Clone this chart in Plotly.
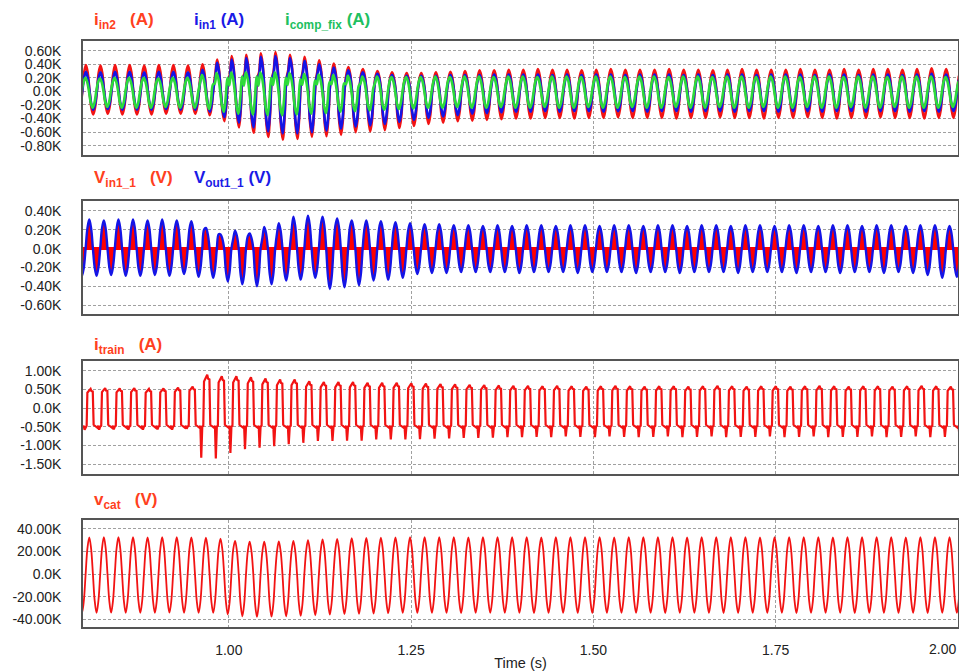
import plotly.graph_objects as go

PERIOD = 0.02  # 50 Hz cycles

# ---------------- panel 1 : input currents (kA), one value per cycle ----------------
i_in2_t0 = 0.7840
i_in2_peak = [0.39, 0.39, 0.38, 0.39, 0.39, 0.38, 0.39, 0.39,
              0.38, 0.40, 0.47, 0.52, 0.54, 0.56, 0.58, 0.54,
              0.51, 0.46, 0.41, 0.36, 0.33, 0.30, 0.28, 0.27,
              0.27, 0.28, 0.29, 0.30, 0.31, 0.31, 0.32, 0.32,
              0.33, 0.32, 0.32, 0.31, 0.32, 0.33, 0.32, 0.32,
              0.32, 0.33, 0.32, 0.32, 0.31, 0.32, 0.33, 0.32,
              0.32, 0.32, 0.33, 0.32, 0.32, 0.33, 0.32, 0.33,
              0.33, 0.32, 0.33, 0.34, 0.33]
i_in2_trough = [-0.34, -0.34, -0.33, -0.34, -0.34, -0.34, -0.33, -0.33,
                -0.33, -0.35, -0.44, -0.53, -0.61, -0.67, -0.71, -0.70,
                -0.67, -0.66, -0.64, -0.60, -0.59, -0.57, -0.54, -0.51,
                -0.48, -0.46, -0.44, -0.43, -0.42, -0.41, -0.40, -0.40,
                -0.39, -0.39, -0.40, -0.39, -0.39, -0.38, -0.39, -0.39,
                -0.39, -0.40, -0.39, -0.39, -0.38, -0.39, -0.39, -0.40,
                -0.39, -0.39, -0.38, -0.39, -0.40, -0.39, -0.39, -0.38,
                -0.39, -0.39, -0.40, -0.39, -0.39]
i_in2_bump = [0, 0, 0, 0, 0, 0, 0, 0,
              0, 0.05, 0.15, 0.20, 0.20, 0.18, 0.18, 0.15,
              0.12, 0.10, 0.05, 0, 0, 0, 0, 0,
              0, 0, 0, 0, 0, 0, 0, 0, 0, 0, 0, 0, 0, 0, 0, 0,
              0, 0, 0, 0, 0, 0, 0, 0, 0, 0, 0, 0, 0, 0, 0, 0,
              0, 0, 0, 0, 0]

i_in1_t0 = 0.7840
i_in1_peak = [0.29, 0.29, 0.28, 0.29, 0.29, 0.28, 0.29, 0.29,
              0.28, 0.32, 0.42, 0.47, 0.49, 0.51, 0.52, 0.49,
              0.45, 0.40, 0.35, 0.31, 0.28, 0.26, 0.24, 0.23,
              0.23, 0.23, 0.24, 0.24, 0.24, 0.25, 0.25, 0.25,
              0.25, 0.24, 0.25, 0.24, 0.25, 0.25, 0.24, 0.25,
              0.25, 0.25, 0.24, 0.25, 0.24, 0.25, 0.25, 0.24,
              0.25, 0.25, 0.25, 0.24, 0.25, 0.25, 0.24, 0.25,
              0.25, 0.24, 0.25, 0.26, 0.25]
i_in1_trough = [-0.27, -0.27, -0.26, -0.27, -0.27, -0.27, -0.26, -0.27,
                -0.27, -0.30, -0.38, -0.46, -0.53, -0.59, -0.62, -0.62,
                -0.60, -0.58, -0.55, -0.52, -0.50, -0.48, -0.45, -0.42,
                -0.39, -0.37, -0.35, -0.33, -0.32, -0.31, -0.30, -0.30,
                -0.29, -0.30, -0.29, -0.29, -0.30, -0.29, -0.29, -0.30,
                -0.29, -0.29, -0.30, -0.29, -0.29, -0.30, -0.29, -0.29,
                -0.30, -0.29, -0.29, -0.30, -0.29, -0.29, -0.30, -0.29,
                -0.29, -0.30, -0.29, -0.30, -0.29]
i_in1_bump = [0, 0, 0, 0, 0, 0, 0, 0,
              0, 0.05, 0.15, 0.20, 0.20, 0.18, 0.17, 0.15,
              0.12, 0.10, 0.06, 0, 0, 0, 0, 0,
              0, 0, 0, 0, 0, 0, 0, 0, 0, 0, 0, 0, 0, 0, 0, 0,
              0, 0, 0, 0, 0, 0, 0, 0, 0, 0, 0, 0, 0, 0, 0, 0,
              0, 0, 0, 0, 0]

i_comp_t0 = 0.7832
i_comp_peak = [0.20, 0.20, 0.19, 0.20, 0.20, 0.20, 0.19, 0.20,
               0.20, 0.24, 0.27, 0.28, 0.28, 0.28, 0.28, 0.27,
               0.26, 0.25, 0.24, 0.23, 0.22, 0.22, 0.21, 0.21,
               0.21, 0.22, 0.21, 0.22, 0.22, 0.21, 0.22, 0.22,
               0.21, 0.22, 0.22, 0.21, 0.22, 0.22, 0.21, 0.22,
               0.22, 0.21, 0.22, 0.22, 0.21, 0.22, 0.22, 0.21,
               0.22, 0.22, 0.21, 0.22, 0.22, 0.21, 0.22, 0.22,
               0.21, 0.22, 0.22, 0.22, 0.21]
i_comp_trough = [-0.24, -0.24, -0.23, -0.24, -0.24, -0.24, -0.23, -0.24,
                 -0.24, -0.26, -0.30, -0.33, -0.34, -0.35, -0.35, -0.34,
                 -0.33, -0.32, -0.30, -0.29, -0.28, -0.27, -0.26, -0.25,
                 -0.24, -0.24, -0.23, -0.24, -0.24, -0.23, -0.24, -0.24,
                 -0.23, -0.24, -0.24, -0.23, -0.24, -0.24, -0.23, -0.24,
                 -0.24, -0.23, -0.24, -0.24, -0.23, -0.24, -0.24, -0.23,
                 -0.24, -0.24, -0.23, -0.24, -0.24, -0.23, -0.24, -0.24,
                 -0.23, -0.24, -0.24, -0.24, -0.23]
i_comp_bump = [0, 0, 0, 0, 0, 0, 0, 0,
               0, 0.10, 0.20, 0.22, 0.22, 0.20, 0.20, 0.18,
               0.16, 0.14, 0.12, 0.08, 0.05, 0, 0, 0,
               0, 0, 0, 0, 0, 0, 0, 0, 0, 0, 0, 0, 0, 0, 0, 0,
               0, 0, 0, 0, 0, 0, 0, 0, 0, 0, 0, 0, 0, 0, 0, 0,
               0, 0, 0, 0, 0]

# ---------------- panel 2 : converter voltages (kV) ----------------
v_t0 = 0.7886
v_out_peak = [0.31, 0.31, 0.30, 0.31, 0.31, 0.30, 0.31, 0.30,
              0.29, 0.22, 0.15, 0.19, 0.16, 0.23, 0.27, 0.34,
              0.35, 0.34, 0.32, 0.30, 0.30, 0.29, 0.28, 0.27,
              0.26, 0.26, 0.25, 0.25, 0.24, 0.25, 0.24, 0.25,
              0.25, 0.24, 0.25, 0.25, 0.24, 0.25, 0.25, 0.24,
              0.25, 0.25, 0.24, 0.25, 0.25, 0.24, 0.25, 0.25,
              0.24, 0.25, 0.25, 0.24, 0.25, 0.25, 0.24, 0.25,
              0.25, 0.24, 0.25, 0.25, 0.24]
v_out_trough = [-0.29, -0.29, -0.28, -0.29, -0.29, -0.28, -0.29, -0.27,
                -0.30, -0.31, -0.35, -0.38, -0.40, -0.38, -0.34, -0.33,
                -0.31, -0.43, -0.41, -0.39, -0.34, -0.33, -0.31, -0.27,
                -0.26, -0.26, -0.25, -0.25, -0.25, -0.25, -0.26, -0.25,
                -0.25, -0.25, -0.26, -0.25, -0.25, -0.25, -0.26, -0.25,
                -0.25, -0.26, -0.25, -0.25, -0.25, -0.26, -0.25, -0.25,
                -0.25, -0.26, -0.25, -0.25, -0.26, -0.25, -0.25, -0.26,
                -0.25, -0.26, -0.28, -0.31, -0.30]
v_in_peak = [0.29, 0.29, 0.28, 0.29, 0.29, 0.28, 0.29, 0.28,
             0.27, 0.20, 0.13, 0.17, 0.14, 0.21, 0.25, 0.32,
             0.33, 0.32, 0.30, 0.28, 0.28, 0.27, 0.26, 0.25,
             0.24, 0.24, 0.23, 0.23, 0.22, 0.23, 0.22, 0.23,
             0.23, 0.22, 0.23, 0.23, 0.22, 0.23, 0.23, 0.22,
             0.23, 0.23, 0.22, 0.23, 0.23, 0.22, 0.23, 0.23,
             0.22, 0.23, 0.23, 0.22, 0.23, 0.23, 0.22, 0.23,
             0.23, 0.22, 0.23, 0.23, 0.22]
v_in_trough = [-0.27, -0.27, -0.26, -0.27, -0.27, -0.26, -0.27, -0.25,
               -0.28, -0.29, -0.33, -0.36, -0.38, -0.36, -0.32, -0.31,
               -0.29, -0.41, -0.39, -0.37, -0.32, -0.31, -0.29, -0.25,
               -0.24, -0.24, -0.23, -0.23, -0.23, -0.23, -0.24, -0.23,
               -0.23, -0.23, -0.24, -0.23, -0.23, -0.23, -0.24, -0.23,
               -0.23, -0.24, -0.23, -0.23, -0.23, -0.24, -0.23, -0.23,
               -0.23, -0.24, -0.23, -0.23, -0.24, -0.23, -0.23, -0.24,
               -0.23, -0.24, -0.26, -0.29, -0.28]

# ---------------- panel 3 : train current (kA) ----------------
i_train_t0 = 0.7850
i_train_low = -0.47
i_train_top = [0.53, 0.52, 0.54, 0.53, 0.54, 0.52, 0.53, 0.55,
               0.58, 0.90, 0.86, 0.86, 0.83, 0.80, 0.77, 0.77,
               0.72, 0.70, 0.70, 0.70, 0.68, 0.68, 0.68, 0.67,
               0.66, 0.65, 0.64, 0.63, 0.62, 0.61, 0.60, 0.60,
               0.59, 0.60, 0.59, 0.58, 0.59, 0.60, 0.59, 0.58,
               0.59, 0.59, 0.58, 0.59, 0.60, 0.59, 0.58, 0.59,
               0.59, 0.58, 0.59, 0.60, 0.59, 0.58, 0.59, 0.59,
               0.58, 0.59, 0.60, 0.59, 0.58]
i_train_dip = [-0.58, -0.58, -0.57, -0.58, -0.58, -0.57, -0.58, -0.55,
               -1.33, -1.35, -1.20, -1.10, -1.06, -1.02, -0.97, -0.93,
               -0.88, -0.88, -0.87, -0.87, -0.84, -0.84, -0.84, -0.83,
               -0.82, -0.81, -0.80, -0.80, -0.79, -0.78, -0.78, -0.77,
               -0.78, -0.76, -0.77, -0.78, -0.76, -0.77, -0.78, -0.77,
               -0.76, -0.78, -0.77, -0.76, -0.78, -0.77, -0.77, -0.76,
               -0.78, -0.77, -0.76, -0.78, -0.77, -0.77, -0.76, -0.78,
               -0.77, -0.76, -0.78, -0.77, -0.77]

# ---------------- panel 4 : catenary voltage (kV) ----------------
v_cat_t0 = 0.7886
v_cat_peak = [32.8, 32.6, 32.8, 32.7, 32.8, 32.6, 32.8, 32.7,
              32.6, 32.4, 31.5, 29.5, 28.8, 28.8, 29.0, 29.5,
              30.0, 30.8, 31.3, 31.8, 32.1, 32.4, 32.6, 32.8,
              32.7, 32.8, 32.8, 32.6, 32.8, 32.7, 32.8, 32.8,
              32.6, 32.8, 32.7, 32.8, 32.8, 32.6, 32.8, 32.7,
              32.8, 32.8, 32.6, 32.8, 32.7, 32.8, 32.8, 32.6,
              32.8, 32.7, 32.8, 32.8, 32.6, 32.8, 32.7, 32.8,
              32.8, 32.6, 32.8, 32.7, 32.8]
v_cat_trough = [-34.1, -34.1, -34.0, -34.1, -34.2, -34.1, -34.0, -34.1,
                -34.2, -34.3, -35.5, -37.2, -37.8, -37.6, -37.2, -36.8,
                -36.3, -35.8, -35.4, -35.0, -34.8, -34.5, -34.3, -34.3,
                -34.2, -34.3, -34.4, -34.2, -34.3, -34.3, -34.2, -34.4,
                -34.3, -34.2, -34.3, -34.4, -34.2, -34.3, -34.3, -34.2,
                -34.4, -34.3, -34.2, -34.3, -34.4, -34.2, -34.3, -34.3,
                -34.2, -34.4, -34.3, -34.2, -34.3, -34.4, -34.2, -34.3,
                -34.3, -34.2, -34.4, -34.3, -34.2]

# tick labels
ticks_p1 = [0.6, 0.4, 0.2, 0.0, -0.2, -0.4, -0.6, -0.8]
labels_p1 = ["0.60K", "0.40K", "0.20K", "0.0K", "-0.20K", "-0.40K", "-0.60K", "-0.80K"]
ticks_p2 = [0.4, 0.2, 0.0, -0.2, -0.4, -0.6]
labels_p2 = ["0.40K", "0.20K", "0.0K", "-0.20K", "-0.40K", "-0.60K"]
ticks_p3 = [1.0, 0.5, 0.0, -0.5, -1.0, -1.5]
labels_p3 = ["1.00K", "0.50K", "0.0K", "-0.50K", "-1.00K", "-1.50K"]
ticks_p4 = [40, 20, 0, -20, -40]
labels_p4 = ["40.00K", "20.00K", "0.0K", "-20.00K", "-40.00K"]
time_ticks = [1.00, 1.25, 1.50, 1.75, 2.00]
time_labels = ["1.00", "1.25", "1.50", "1.75", "2.00"]

# shape of one cycle: phase, weight of peak, weight of trough, weight of bump
SINE_SHAPE = [(0.000, 1.0, 0.0, 0.0), (0.125, 0.7, 0.0, 0.0),
              (0.250, 0.0, 0.0, 0.0), (0.375, 0.0, 0.7, 0.0),
              (0.500, 0.0, 1.0, 0.0), (0.625, 0.0, 0.7, 0.6),
              (0.750, 0.0, 0.0, 1.0), (0.875, 0.7, 0.0, -0.5)]
# train current cycle: phase, level used, factor
TRAIN_SHAPE = [(0.00, "low", 1.0), (0.05, "top", 0.80), (0.12, "top", 0.86),
               (0.20, "top", 0.90), (0.27, "top", 1.00), (0.33, "top", 0.88),
               (0.42, "top", 0.86), (0.48, "low", 0.95), (0.56, "low", 1.0),
               (0.66, "low", 1.02), (0.74, "low", 1.12), (0.80, "low", 1.0),
               (0.86, "dip", 1.0), (0.93, "low", 1.05)]


def wave(t0, peaks, troughs, bumps=None):
    xs, ys = [], []
    for c in range(len(peaks)):
        b = bumps[c] if bumps else 0.0
        for ph, wp, wt, wb in SINE_SHAPE:
            xs.append(t0 + (c + ph) * PERIOD)
            ys.append(wp * peaks[c] + wt * troughs[c] + wb * b)
    return xs, ys


def train_wave(t0, tops, dips, low):
    xs, ys = [], []
    for c in range(len(tops)):
        level = {"top": tops[c], "dip": dips[c], "low": low}
        for ph, key, f in TRAIN_SHAPE:
            xs.append(t0 + (c + ph) * PERIOD)
            ys.append(level[key] * f)
    return xs, ys


RED = "#f21313"
BLUE = "#1414e6"
GREEN = "#2edb3a"

fig = go.Figure()

x, y = wave(i_in2_t0, i_in2_peak, i_in2_trough, i_in2_bump)
fig.add_trace(go.Scatter(x=x, y=y, mode="lines", line=dict(color=RED, width=2.6, shape="spline"),
                         name="i_in2", xaxis="x", yaxis="y"))
x, y = wave(i_in1_t0, i_in1_peak, i_in1_trough, i_in1_bump)
fig.add_trace(go.Scatter(x=x, y=y, mode="lines", line=dict(color=BLUE, width=2.6, shape="spline"),
                         name="i_in1", xaxis="x", yaxis="y"))
x, y = wave(i_comp_t0, i_comp_peak, i_comp_trough, i_comp_bump)
fig.add_trace(go.Scatter(x=x, y=y, mode="lines", line=dict(color=GREEN, width=2.6, shape="spline"),
                         name="i_comp_fix", xaxis="x", yaxis="y"))

x, y = wave(v_t0, v_in_peak, v_in_trough)
fig.add_trace(go.Scatter(x=x, y=y, mode="lines", line=dict(color="#ff0000", width=1, shape="spline"),
                         fill="tozeroy", fillcolor="#ff0000", name="V_in1_1", xaxis="x2", yaxis="y2"))
x, y = wave(v_t0, v_out_peak, v_out_trough)
fig.add_trace(go.Scatter(x=x, y=y, mode="lines", line=dict(color=BLUE, width=2.4, shape="spline"),
                         name="V_out1_1", xaxis="x2", yaxis="y2"))

x, y = train_wave(i_train_t0, i_train_top, i_train_dip, i_train_low)
fig.add_trace(go.Scatter(x=x, y=y, mode="lines", line=dict(color=RED, width=2.2),
                         name="i_train", xaxis="x3", yaxis="y3"))

x, y = wave(v_cat_t0, v_cat_peak, v_cat_trough)
fig.add_trace(go.Scatter(x=x, y=y, mode="lines", line=dict(color=RED, width=1.8, shape="spline"),
                         name="v_cat", xaxis="x4", yaxis="y4"))

H = 672.0


def dom(top_px, bot_px):
    return [(H - bot_px) / H, (H - top_px) / H]


FONT = "Arial, Liberation Sans, sans-serif"
TICKFONT = dict(family=FONT, size=14, color="#222222")
GRID = dict(showgrid=True, gridcolor="#a0a0a0", griddash="3px,2px", gridwidth=1,
            showline=True, mirror=True, linecolor="#555555", linewidth=1.5,
            ticks="", zeroline=False, tickfont=TICKFONT)

panels = [(41, 155, [-0.937, 0.743], ticks_p1, labels_p1),
          (201, 314, [-0.695, 0.506], ticks_p2, labels_p2),
          (361, 474, [-1.768, 1.268], ticks_p3, labels_p3),
          (520, 627, [-46.7, 47.9], ticks_p4, labels_p4)]

# the last time label sits flush with the right frame, so it is placed separately
axis_time_labels = time_labels[:-1] + [""]

layout = dict(width=959, height=672, margin=dict(l=83, r=1, t=0, b=0, autoexpand=False),
              paper_bgcolor="white", plot_bgcolor="white", showlegend=False,
              font=dict(family=FONT))
for i, (top, bot, rng, tv, tt) in enumerate(panels, start=1):
    sx = "" if i == 1 else str(i)
    layout["xaxis" + sx] = dict(GRID, domain=[0, 1], anchor="y" + sx, range=[0.80, 2.0002],
                                tickvals=time_ticks, ticktext=axis_time_labels,
                                showticklabels=(i == 4), ticklabelstandoff=9,
                                **({} if i == 1 else {"matches": "x"}))
    layout["yaxis" + sx] = dict(GRID, domain=dom(top, bot), anchor="x" + sx, range=rng,
                                tickvals=tv, ticktext=tt, ticklabelstandoff=17)
layout["yaxis2"].update(zeroline=True, zerolinecolor="#ff0000", zerolinewidth=3)
layout["xaxis4"]["title"] = dict(text="Time (s)", font=dict(family=FONT, size=14.5, color="#222222"),
                                 standoff=1)

fig.update_layout(**layout)

fig.add_annotation(x=time_ticks[-1], xref="x4", y=(H - 649) / H, yref="paper",
                   xanchor="right", yanchor="middle", showarrow=False,
                   text=time_labels[-1], font=TICKFONT)

# panel titles
LRED = "#ff4020"
LBLUE = "#1a1ae6"
LGREEN = "#20c060"
titles = [(92, 21, "i<sub>in2</sub>&nbsp;&nbsp; (A)", LRED),
          (192, 21, "i<sub>in1</sub>&nbsp;(A)", LBLUE),
          (283, 21, "i<sub>comp_fix</sub> (A)", LGREEN),
          (92, 179, "V<sub>in1_1</sub>&nbsp;&nbsp; (V)", LRED),
          (192, 179, "V<sub>out1_1</sub> (V)", LBLUE),
          (92, 346, "i<sub>train</sub>&nbsp;&nbsp; (A)", LRED),
          (92, 501, "v<sub>cat</sub>&nbsp;&nbsp; (V)", LRED)]
for px, py, txt, col in titles:
    fig.add_annotation(x=(px - 83) / 875.0, y=(H - py) / H, xref="paper", yref="paper",
                       xanchor="left", yanchor="middle", showarrow=False,
                       text="<b>" + txt + "</b>", font=dict(family=FONT, size=17, color=col))

fig.write_html("out.html", config={"displayModeBar": False},
               post_script="document.body.style.margin='0';")
